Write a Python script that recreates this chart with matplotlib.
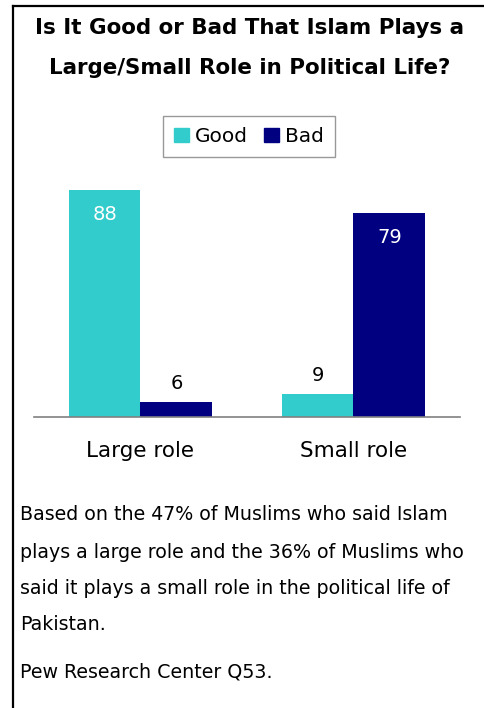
import matplotlib
matplotlib.use("Agg")
import matplotlib.pyplot as plt
from matplotlib.lines import Line2D
from matplotlib.patches import Patch
import numpy as np

categories = ["Large role", "Small role"]
good = [88, 9]
bad = [6, 79]
series_names = ["Good", "Bad"]
title_lines = ["Is It Good or Bad That Islam Plays a", "Large/Small Role in Political Life?"]
note_lines = [
    "Based on the 47% of Muslims who said Islam",
    "plays a large role and the 36% of Muslims who",
    "said it plays a small role in the political life of",
    "Pakistan.",
]
source = "Pew Research Center Q53."

good_color = "#33CCCC"
bad_color = "#000080"

plt.rcParams["font.family"] = ["DejaVu Sans"]

W, H = 485, 708
fig = plt.figure(figsize=(W / 100, H / 100), dpi=100)

def fx(px):
    return px / W

def fy(py):
    return 1 - py / H

# frame lines (left and top)
fig.add_artist(Line2D([fx(13), fx(13)], [0, fy(6)], color="black", lw=1.6))
fig.add_artist(Line2D([fx(13), 1], [fy(6), fy(6)], color="black", lw=1.6))

# title
fig.text(fx(250), fy(28), title_lines[0], ha="center", va="center", fontsize=15.4, fontweight="bold")
fig.text(fx(250), fy(68), title_lines[1], ha="center", va="center", fontsize=15.4, fontweight="bold")

# bars
ax = fig.add_axes([fx(34), fy(417), fx(460) - fx(34), fy(159) - fy(417)])
x = np.arange(len(categories))
w = 0.338
b1 = ax.bar(x - w / 2, good, w, color=good_color)
b2 = ax.bar(x + w / 2, bad, w, color=bad_color)
ax.set_xlim(-0.5, 1.5)
ax.set_ylim(0, 100)
for s in ["top", "right", "left"]:
    ax.spines[s].set_visible(False)
ax.spines["bottom"].set_color("#808080")
ax.spines["bottom"].set_linewidth(1.2)
ax.set_yticks([])
ax.set_xticks(x)
ax.set_xticklabels(categories, fontsize=15.5)
ax.tick_params(axis="x", length=0, pad=17)

for bars in [b1, b2]:
    for r in bars:
        v = r.get_height()
        cx = r.get_x() + r.get_width() / 2
        if v > 30:
            ax.annotate(str(int(v)), (cx, v), xytext=(0, -11), textcoords="offset points",
                        ha="center", va="top", color="white", fontsize=14)
        else:
            ax.annotate(str(int(v)), (cx, v), xytext=(0, 6), textcoords="offset points",
                        ha="center", va="bottom", color="black", fontsize=14)

handles = [Patch(color=good_color), Patch(color=bad_color)]
leg = fig.legend(handles, series_names, loc="center", bbox_to_anchor=(fx(249), fy(136.5)),
                 ncol=2, fontsize=14.5, frameon=True, fancybox=False, handlelength=0.75,
                 handleheight=0.75, handletextpad=0.3, columnspacing=0.8, borderpad=0.55)
leg.get_frame().set_edgecolor("#808080")
leg.get_frame().set_linewidth(1.0)

# footnote
ys = [515, 552, 588, 625]
for t, yy in zip(note_lines, ys):
    fig.text(fx(20), fy(yy), t, ha="left", va="center", fontsize=13.7)
fig.text(fx(20), fy(672), source, ha="left", va="center", fontsize=13.7)

fig.savefig("out.png", dpi=100)
